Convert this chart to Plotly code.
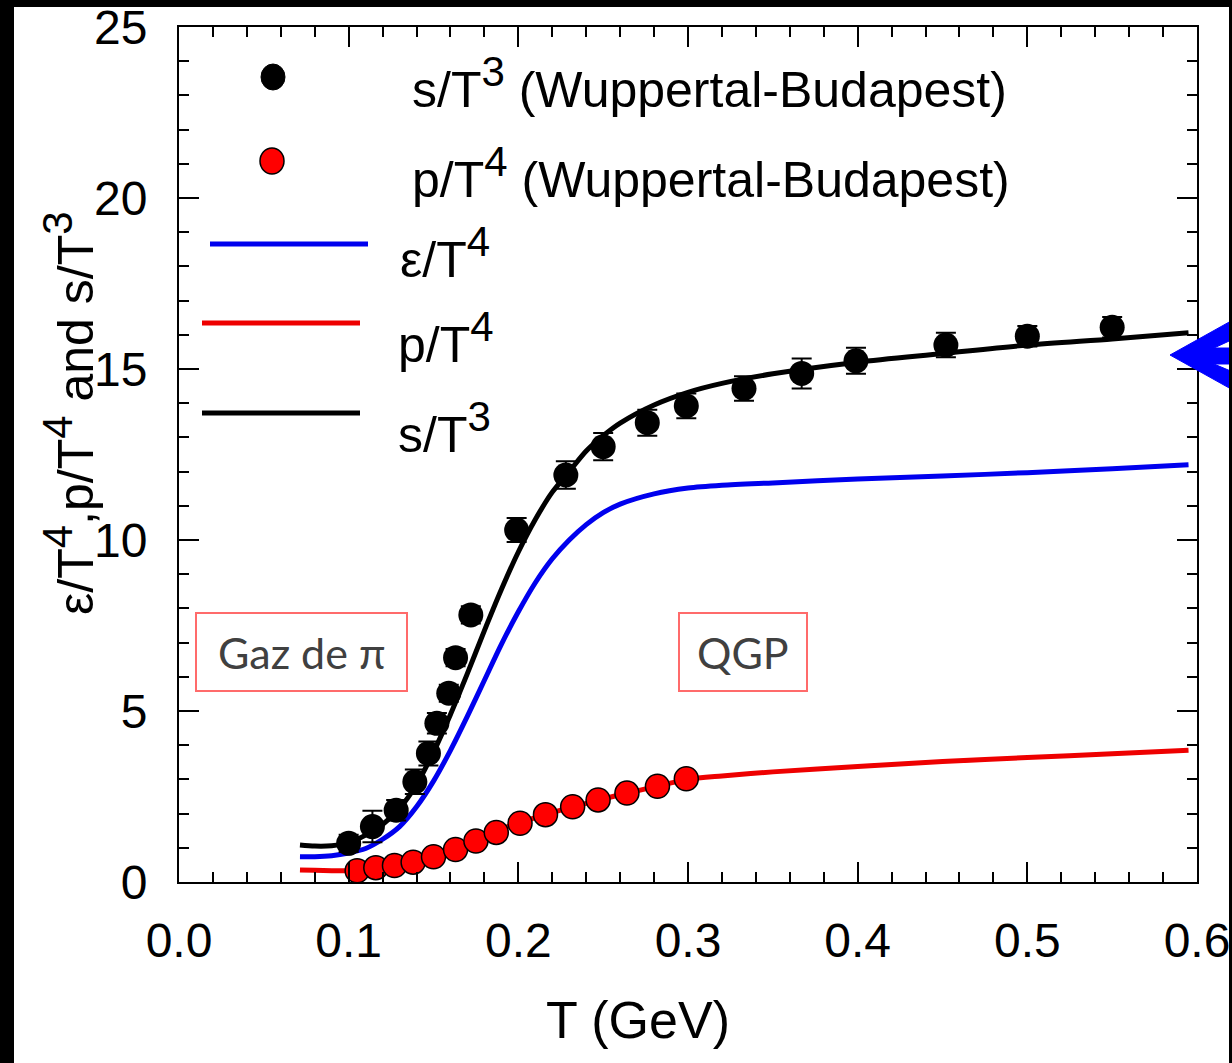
import plotly.graph_objects as go

# Lattice QCD points (Wuppertal-Budapest): entropy density s/T^3
T_lat_s = [0.100, 0.114, 0.128, 0.139, 0.147, 0.152, 0.159, 0.163, 0.172, 0.199,
           0.228, 0.250, 0.276, 0.299, 0.333, 0.367, 0.399, 0.452, 0.500, 0.550]
s_lat = [1.13, 1.62, 2.10, 2.93, 3.76, 4.64, 5.52, 6.56, 7.81, 10.29,
         11.90, 12.73, 13.43, 13.92, 14.43, 14.87, 15.24, 15.70, 15.96, 16.22]
s_err = [0.25, 0.46, 0.30, 0.36, 0.35, 0.30, 0.25, 0.25, 0.25, 0.35,
         0.40, 0.40, 0.38, 0.36, 0.36, 0.44, 0.38, 0.36, 0.30, 0.30]

# Lattice QCD points (Wuppertal-Budapest): pressure p/T^4
T_lat_p = [0.105, 0.116, 0.127, 0.138, 0.150, 0.163, 0.175, 0.187, 0.201, 0.216,
           0.232, 0.247, 0.264, 0.282, 0.299]
p_lat = [0.33, 0.42, 0.48, 0.58, 0.74, 0.95, 1.20, 1.45, 1.72, 1.97,
         2.20, 2.40, 2.60, 2.80, 3.02]

# Model curves
T_curve = [0.0713, 0.08, 0.09, 0.10, 0.11, 0.12, 0.13, 0.14, 0.15, 0.16, 0.17, 0.18,
           0.19, 0.20, 0.21, 0.22, 0.23, 0.24, 0.25, 0.26, 0.28, 0.30, 0.32, 0.35,
           0.40, 0.45, 0.50, 0.55, 0.595]
s_curve = [1.08, 1.05, 1.06, 1.15, 1.37, 1.68, 2.15, 2.85, 3.80, 4.90, 6.10, 7.35,
           8.55, 9.65, 10.60, 11.40, 12.00, 12.60, 13.05, 13.42, 13.95, 14.32, 14.58, 14.86,
           15.20, 15.45, 15.70, 15.88, 16.06]
eps_curve = [0.74, 0.74, 0.77, 0.85, 0.98, 1.25, 1.62, 2.20, 2.95, 3.85, 4.85, 5.90,
             6.95, 7.90, 8.75, 9.45, 10.00, 10.45, 10.80, 11.05, 11.35, 11.52, 11.60, 11.67,
             11.78, 11.87, 11.97, 12.08, 12.20]
p_curve = [0.35, 0.34, 0.33, 0.33, 0.38, 0.45, 0.52, 0.62, 0.75, 0.92, 1.12, 1.35,
           1.55, 1.72, 1.88, 2.03, 2.17, 2.30, 2.43, 2.55, 2.78, 3.00, 3.10, 3.22,
           3.38, 3.52, 3.64, 3.75, 3.85]

x_ticks = [0.0, 0.1, 0.2, 0.3, 0.4, 0.5, 0.6]
y_ticks = [0, 5, 10, 15, 20, 25]

FONT = "Liberation Sans, Arial, Helvetica, sans-serif"
BOX_FONT = "Lato, Open Sans, sans-serif"

W, H = 1232, 1063
L, R, TOP, BOT = 179, 1197, 27, 882


def px(x):
    return (x - L) / (R - L)


def py(y):
    return (BOT - y) / (BOT - TOP)


def sup(t, size):
    # exponent drawn a bit larger than the default 70 %
    return f"<sup><span style='font-size:{size}px'>{t}</span></sup>"


fig = go.Figure()

curve_line = dict(width=5, shape="spline", smoothing=0.8)
fig.add_trace(go.Scatter(x=T_curve, y=eps_curve, mode="lines", line=dict(color="#0000ee", **curve_line)))
fig.add_trace(go.Scatter(x=T_curve, y=s_curve, mode="lines", line=dict(color="#000000", **curve_line)))
fig.add_trace(go.Scatter(x=T_curve, y=p_curve, mode="lines", line=dict(color="#ee0000", **curve_line)))
fig.add_trace(go.Scatter(
    x=T_lat_s, y=s_lat, mode="markers",
    marker=dict(color="black", size=25),
    error_y=dict(type="data", array=s_err, color="black", thickness=2, width=10),
))
fig.add_trace(go.Scatter(
    x=T_lat_p, y=p_lat, mode="markers",
    marker=dict(color="#ff0000", size=24, line=dict(color="black", width=1.5)),
))

shapes = []
annotations = []

# legend
shapes.append(dict(type="circle", xref="paper", yref="paper", xsizemode="pixel", ysizemode="pixel",
                   xanchor=px(273), yanchor=py(77), x0=-12, x1=12, y0=-13, y1=13,
                   fillcolor="black", line=dict(color="black", width=1)))
shapes.append(dict(type="circle", xref="paper", yref="paper", xsizemode="pixel", ysizemode="pixel",
                   xanchor=px(272), yanchor=py(161), x0=-12, x1=12, y0=-13, y1=13,
                   fillcolor="#ff0000", line=dict(color="black", width=1.5)))
for (x0, x1, yy, col) in [(210, 368, 244, "#0000ee"), (202, 360, 323, "#ee0000"), (202, 360, 413, "black")]:
    shapes.append(dict(type="line", xref="paper", yref="paper", x0=px(x0), x1=px(x1), y0=py(yy), y1=py(yy),
                       line=dict(color=col, width=5)))

legend_texts = [
    ("s/T" + sup(3, 42) + " (Wuppertal-Budapest)", 410, 83),
    ("p/T" + sup(4, 42) + " (Wuppertal-Budapest)", 410, 173),
    ("ε/T" + sup(4, 42), 398, 253),
    ("p/T" + sup(4, 42), 396, 338),
    ("s/T" + sup(3, 42), 396, 428),
]
for txt, x, y in legend_texts:
    annotations.append(dict(text=txt, xref="paper", yref="paper", x=px(x), y=py(y), xanchor="left", yanchor="middle",
                            showarrow=False, font=dict(family=FONT, size=50, color="black")))

# region labels
for txt, x0, x1 in [("Gaz de π", 196, 407), ("QGP", 679, 807)]:
    shapes.append(dict(type="rect", xref="paper", yref="paper", x0=px(x0), x1=px(x1), y0=py(613), y1=py(691),
                       fillcolor="white", line=dict(color="#ff6b6b", width=2)))
    annotations.append(dict(text=txt, xref="paper", yref="paper", x=px((x0 + x1) / 2), y=py(652),
                            xanchor="center", yanchor="middle", showarrow=False,
                            font=dict(family=BOX_FONT, size=43, color="#404040")))

# axis titles
annotations.append(dict(text="T (GeV)", xref="paper", yref="paper", x=px(638), y=py(1020), xanchor="center",
                        yanchor="middle", showarrow=False, font=dict(family=FONT, size=52, color="black")))
annotations.append(dict(text="ε/T" + sup(4, 42) + ",p/T" + sup(4, 42) + " and s/T" + sup(3, 42),
                        xref="paper", yref="paper",
                        x=px(69), y=py(413), xanchor="center", yanchor="middle", textangle=-90, showarrow=False,
                        font=dict(family=FONT, size=50, color="black")))

# blue arrow pointing at the curve end
pts = [(1170, 355), (1240, 316), (1240, 336), (1214, 348), (1240, 348), (1240, 364),
       (1214, 364), (1240, 375), (1240, 394)]
path = "M " + " L ".join(f"{px(a):.5f},{py(b):.5f}" for a, b in pts) + " Z"
shapes.append(dict(type="path", xref="paper", yref="paper", path=path, fillcolor="#0000ff",
                   line=dict(color="#0000ff", width=1), layer="above"))

# dark frame strips
for (x0, x1, y0, y1) in [(0, 14, 0, H), (0, W, 0, 7), (1229, W, 0, H)]:
    shapes.append(dict(type="rect", xref="paper", yref="paper", x0=px(x0), x1=px(x1), y0=py(y1), y1=py(y0),
                       fillcolor="black", line=dict(width=0), layer="above"))

axis_common = dict(
    showline=True, linecolor="black", linewidth=2, mirror="allticks",
    ticks="inside", tickcolor="black", tickwidth=2, ticklen=20,
    showgrid=False, zeroline=False, automargin=False,
    tickfont=dict(family=FONT, size=48, color="black"),
)

fig.update_xaxes(range=[0, 0.6], tickvals=x_ticks, ticktext=[f"{v:.1f}" for v in x_ticks],
                 minor=dict(dtick=0.02, ticks="inside", ticklen=10, tickcolor="black", tickwidth=2, showgrid=False),
                 ticklabelstandoff=15, **axis_common)
fig.update_yaxes(range=[0, 25], tickvals=y_ticks, ticktext=[str(v) for v in y_ticks],
                 minor=dict(dtick=1, ticks="inside", ticklen=10, tickcolor="black", tickwidth=2, showgrid=False),
                 ticklabelstandoff=20, **axis_common)

fig.update_layout(
    width=W, height=H, autosize=False,
    margin=dict(l=L, r=W - R, t=TOP, b=H - BOT, pad=0, autoexpand=False),
    paper_bgcolor="white", plot_bgcolor="white",
    showlegend=False,
    shapes=shapes, annotations=annotations,
)

fig.write_html("out.html", config={"displayModeBar": False})
